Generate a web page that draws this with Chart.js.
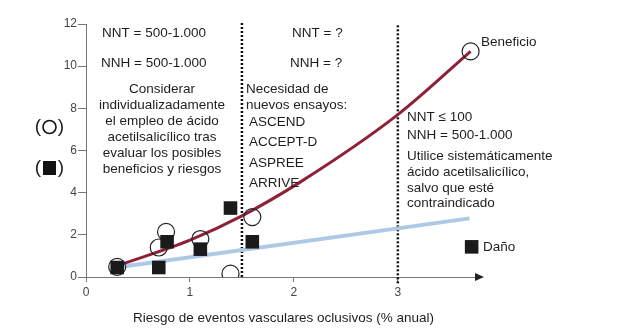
<!DOCTYPE html>
<html lang="es">
<head>
<meta charset="utf-8">
<title>Beneficio y daño del ácido acetilsalicílico</title>
<script src="https://cdn.jsdelivr.net/npm/chart.js@4"></script>
<style>
  html, body { margin: 0; padding: 0; background: #fff; }
  #wrap { width: 620px; height: 335px; position: relative; }
</style>
</head>
<body>
<div id="wrap"><canvas id="chart" width="620" height="335"></canvas></div>
<script>
/* Riesgo vascular vs. beneficio (○) y daño (■) de la AAS.
   Estudios de prevención como puntos, curvas de tendencia y umbrales en 1,5 y 3 % anual. */

const X_TICKS = [0, 1, 2, 3];
const Y_MAX = 12;

// beneficio (círculos): estudios + extremo de la curva
const benefitX = [0.30, 0.70, 0.77, 1.10, 1.39, 1.60, 3.70];
const benefitY = [0.48, 1.40, 2.14, 1.80, 0.16, 2.84, 10.70];

// daño (cuadrados): estudios + marca de "Daño"
const harmX = [0.30, 0.70, 0.78, 1.10, 1.39, 1.60, 3.71];
const harmY = [0.45, 0.45, 1.67, 1.32, 3.27, 1.67, 1.43];

// curva de beneficio (roja) y recta de daño (azul)
const benefitCurveX = [0.34, 1.00, 1.50, 2.06, 3.00, 3.70];
const benefitCurveY = [0.60, 1.75, 2.90, 4.50, 7.70, 10.70];
const harmLineX = [0.29, 3.69];
const harmLineY = [0.45, 2.78];

// umbrales de riesgo
const thresholds = [1.5, 3];

const FONT = '"Liberation Sans", Arial, sans-serif';
const zip = (xs, ys) => xs.map((x, i) => ({ x, y: ys[i] }));

const notes = [
  // [texto, x, y, align]
  ["NNT = 500-1.000", 102, 33, "left"],
  ["NNH = 500-1.000", 101, 63, "left"],
  ["Considerar", 162, 89, "center"],
  ["individualizadamente", 162, 105, "center"],
  ["el empleo de ácido", 162, 121, "center"],
  ["acetilsalicílico tras", 162, 137, "center"],
  ["evaluar los posibles", 162, 153, "center"],
  ["beneficios y riesgos", 162, 169, "center"],
  ["NNT = ?", 292, 33, "left"],
  ["NNH = ?", 290, 63, "left"],
  ["Necesidad de", 246, 89, "left"],
  ["nuevos ensayos:", 246, 105, "left"],
  ["ASCEND", 249, 122, "left"],
  ["ACCEPT-D", 249, 142, "left"],
  ["ASPREE", 249, 163, "left"],
  ["ARRIVE", 249, 183, "left"],
  ["NNT ≤ 100", 407, 117, "left"],
  ["NNH = 500-1.000", 407, 135, "left"],
  ["Utilice sistemáticamente", 407, 156, "left"],
  ["ácido acetilsalicílico,", 407, 172, "left"],
  ["salvo que esté", 407, 188, "left"],
  ["contraindicado", 407, 203, "left"],
  ["Beneficio", 481, 42, "left"],
  ["Daño", 483, 247, "left"],
];

const annotations = {
  id: "annotations",
  afterDraw(chart) {
    const { ctx, chartArea } = chart;
    ctx.save();

    // flecha del eje x
    const ay = chartArea.bottom;
    ctx.fillStyle = "#222";
    ctx.beginPath();
    ctx.moveTo(chartArea.right + 3, ay);
    ctx.lineTo(chartArea.right - 6, ay - 4);
    ctx.lineTo(chartArea.right - 6, ay + 4);
    ctx.closePath();
    ctx.fill();

    // textos
    ctx.fillStyle = "#1e1e1e";
    ctx.font = "13.5px " + FONT;
    ctx.textBaseline = "middle";
    for (const [t, x, y, align] of notes) {
      ctx.textAlign = align;
      ctx.fillText(t, x, y);
    }

    // leyenda del eje y: (○) y (■)
    ctx.font = "19px " + FONT;
    ctx.textAlign = "center";
    ctx.fillStyle = "#222";
    ctx.fillText("(", 38, 127);
    ctx.fillText(")", 61, 127);
    ctx.fillText("(", 38, 168);
    ctx.fillText(")", 61, 168);
    ctx.lineWidth = 1.6;
    ctx.strokeStyle = "#111";
    ctx.beginPath();
    ctx.arc(49.5, 127, 6.5, 0, Math.PI * 2);
    ctx.stroke();
    ctx.fillStyle = "#111";
    ctx.fillRect(43, 161, 13, 14);

    ctx.restore();
  }
};

const thresholdSets = thresholds.map((t, i) => ({
  type: "line",
  data: i === 0 ? [{ x: t, y: 0 }, { x: t, y: 12.14 }] : [{ x: t, y: -0.3 }, { x: t, y: Y_MAX }],
  borderColor: "#111",
  borderWidth: 2.5,
  borderDash: [2, 2],
  pointRadius: 0,
  clip: false,
}));

new Chart(document.getElementById("chart"), {
  type: "scatter",
  data: {
    datasets: [
      {
        label: "Daño",
        data: zip(harmX, harmY),
        pointStyle: "rect",
        pointRadius: 9.6,
        backgroundColor: "#1a1a1a",
        borderColor: "#1a1a1a",
        borderWidth: 0,
      },
      {
        label: "Beneficio",
        data: zip(benefitX, benefitY),
        pointStyle: "circle",
        pointRadius: 8.5,
        backgroundColor: "rgba(0,0,0,0)",
        borderColor: "#222",
        borderWidth: 1.2,
      },
      {
        type: "line",
        label: "Curva beneficio",
        data: zip(benefitCurveX, benefitCurveY),
        borderColor: "#8e2138",
        borderWidth: 3,
        pointRadius: 0,
        cubicInterpolationMode: "monotone",
      },
      {
        type: "line",
        label: "Recta daño",
        data: zip(harmLineX, harmLineY),
        borderColor: "#adc9e6",
        borderWidth: 4,
        pointRadius: 0,
      },
      ...thresholdSets,
    ],
  },
  options: {
    responsive: false,
    animation: false,
    layout: { padding: { left: 0, right: 139, top: 24, bottom: 0 } },
    plugins: { legend: { display: false }, tooltip: { enabled: false } },
    scales: {
      x: {
        type: "linear",
        min: 0,
        max: 3.8,
        afterBuildTicks: s => { s.ticks = X_TICKS.map(v => ({ value: v })); },
        afterFit: s => { s.height = 58; },
        grid: { drawOnChartArea: false, drawTicks: true, tickLength: 5, color: "#777" },
        border: { color: "#777", width: 1 },
        ticks: { color: "#444", font: { family: FONT, size: 12 }, padding: 3 },
        title: {
          display: true,
          text: "Riesgo de eventos vasculares oclusivos (% anual)",
          color: "#1e1e1e",
          font: { family: FONT, size: 13.5 },
          padding: { top: 0, bottom: 9 },
        },
      },
      y: {
        min: 0,
        max: Y_MAX,
        afterFit: s => { s.width = 86; },
        grid: { drawOnChartArea: false, drawTicks: true, tickLength: 8, color: "#777" },
        border: { color: "#777", width: 1 },
        ticks: { stepSize: 2, color: "#444", font: { family: FONT, size: 12 }, padding: 1 },
      },
    },
  },
  plugins: [annotations],
});
</script>
</body>
</html>
